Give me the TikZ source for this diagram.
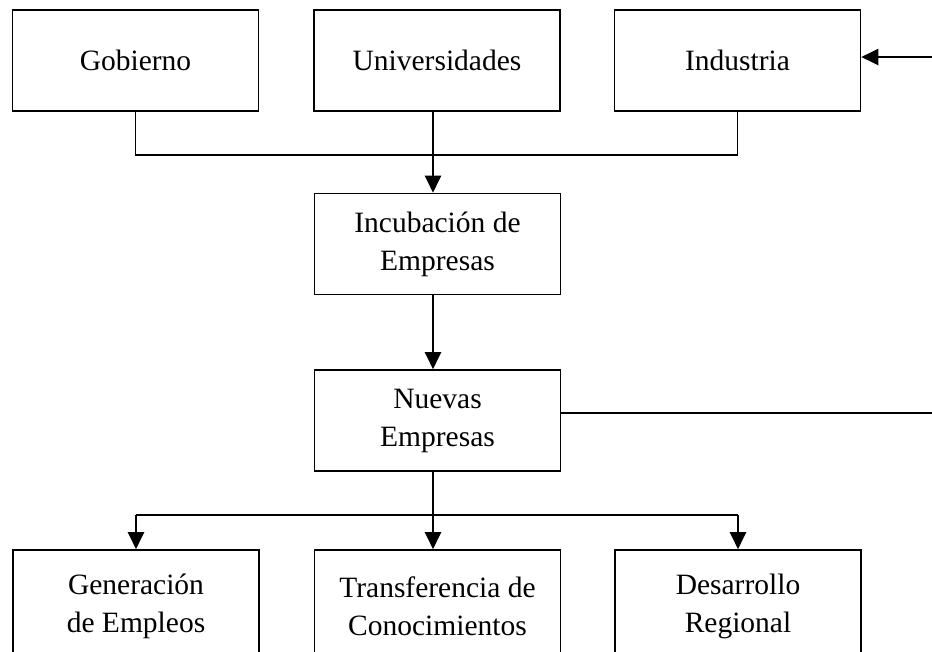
\documentclass[tikz,border=0pt]{standalone}
\usepackage{fontspec}
\setmainfont{Liberation Serif}
\usetikzlibrary{arrows.meta}
\begin{document}
\begin{tikzpicture}[x=1pt,y=-1pt,
  box/.style={draw, line width=1.6pt, minimum width=246pt, minimum height=101pt,
    align=center, inner sep=0pt, font=\fontsize{29.5}{38}\selectfont},
  lowbox/.style={box, minimum height=112pt},
  conn/.style={line width=1.6pt},
  arr/.style={line width=2.2pt, -{Triangle[length=17pt,width=16pt]}}]
\useasboundingbox (0,0) rectangle (932,651);
\node[box] (gob) at (135.5,60.5) {Gobierno};
\node[box] (uni) at (437,60.5) {Universidades};
\node[box] (ind) at (737.5,60.5) {Industria};
\node[box] (inc) at (437.5,244) {Incubación de\\Empresas};
\node[box] (nue) at (437.5,420.5) {Nuevas\\Empresas};
\node[lowbox] (gen) at (136,606) {Generación\\de Empleos};
\node[lowbox] (tra) at (437.5,606) {Transferencia de\\Conocimientos};
\node[lowbox] (des) at (738,606) {Desarrollo\\Regional};
\coordinate (j1) at (433,155);
\coordinate (j2) at (437,515);
\coordinate (r1) at (932,413);
\coordinate (r2) at (932,57);
\draw[conn] (gob.south) -- (gob.south |- j1) -- (ind.south |- j1) -- (ind.south);
\draw[arr] (uni.south -| j1) -- (inc.north -| j1);
\draw[arr] (inc.south -| j1) -- (nue.north -| j1);
\draw[conn] (nue.south -| j1) -- (j1 |- j2);
\draw[conn] (gen.north |- j2) -- (des.north |- j2);
\draw[arr] (gen.north |- j2) -- (gen.north);
\draw[arr] (j1 |- j2) -- (tra.north -| j1);
\draw[arr] (des.north |- j2) -- (des.north);
\draw[conn] (nue.east |- r1) -- (r1);
\draw[arr] (r2) -- (ind.east |- r2);
\end{tikzpicture}
\end{document}
